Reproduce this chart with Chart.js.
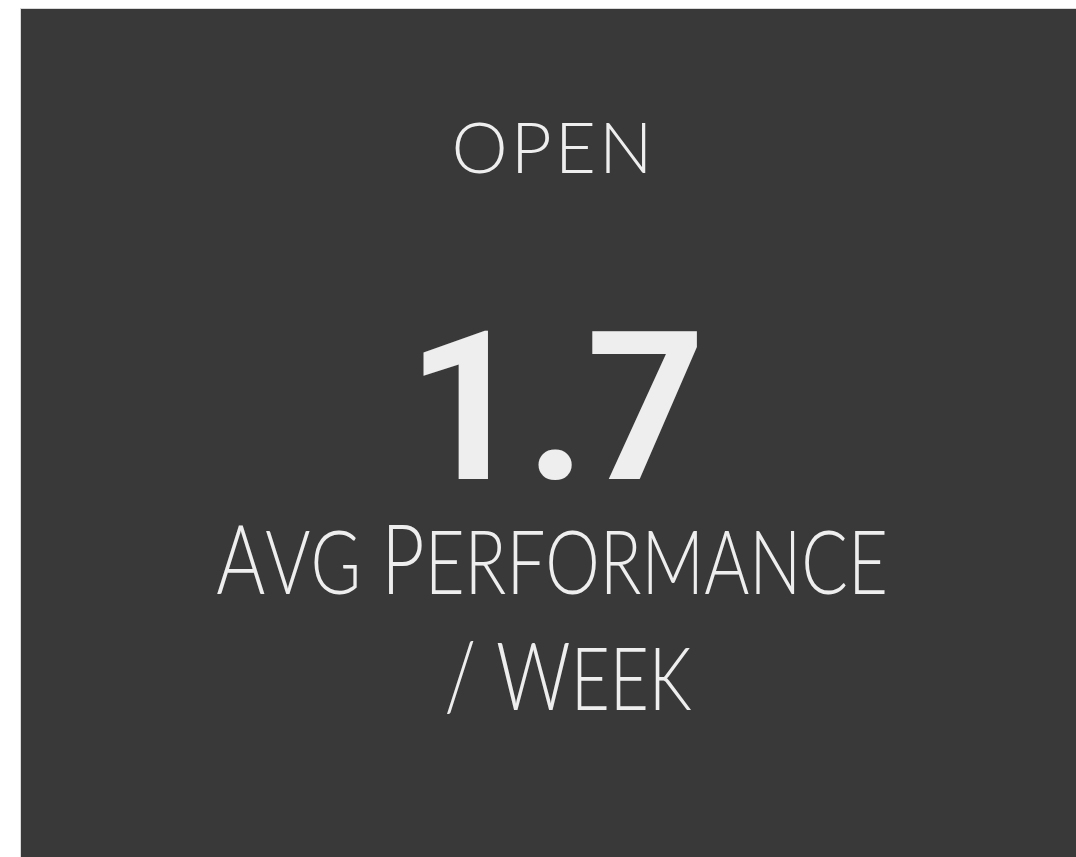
<!DOCTYPE html>
<html>
<head>
<meta charset="utf-8">
<script src="https://cdn.jsdelivr.net/npm/chart.js@4.4.1/dist/chart.umd.min.js"></script>
<style>
  html, body { margin: 0; padding: 0; background: #fff; overflow: hidden; }
  #card {
    position: absolute; left: 20px; top: 8px;
    width: 1062px; height: 860px;
    background: #393939;
    border-top: 1px solid #d9d9d9; border-left: 1px solid #d9d9d9;
  }
  #kpi { display: block; }
</style>
</head>
<body>
<div id="card"><canvas id="kpi" width="1062" height="860"></canvas></div>
<script>
// KPI data
const headings = ['Open'];
const categories = ['Avg Performance / Week'];
const values = [1.7];
const labelLines = ['Avg Performance', '/ Week'];

const textColor = '#eeeeee';
const thinFont = 'Lato';

// draw text in small caps: capitals full size, lower case as smaller capitals
function drawSmallCaps(ctx, text, cx, baseline, size, ratio, spacing, hScale) {
    const parts = [...text].map(ch => {
        const small = ch !== ch.toUpperCase();
        const fs = small ? size * ratio : size;
        ctx.font = `300 ${fs}px ${thinFont}`;
        const glyph = ch.toUpperCase();
        return { glyph, fs, w: ctx.measureText(glyph).width };
    });
    const total = parts.reduce((a, p) => a + p.w + spacing, 0) - spacing;
    ctx.save();
    ctx.translate(cx, baseline);
    ctx.scale(hScale, 1);
    let x = -total / 2;
    ctx.textAlign = 'left';
    ctx.textBaseline = 'alphabetic';
    parts.forEach(p => {
        ctx.font = `300 ${p.fs}px ${thinFont}`;
        ctx.fillText(p.glyph, x, 0);
        x += p.w + spacing;
    });
    ctx.restore();
}

const kpiPlugin = {
    id: 'kpiText',
    afterDraw(chart) {
        const ctx = chart.ctx;
        const cx = chart.width / 2;
        const value = chart.data.datasets[0].data[0];
        ctx.save();
        ctx.fillStyle = textColor;

        drawSmallCaps(ctx, headings[0].toUpperCase(), cx, 164, 71, 0.92, 3, 1);

        ctx.font = '700 208px Roboto';
        ctx.textAlign = 'center';
        ctx.textBaseline = 'alphabetic';
        ctx.fillText(value.toFixed(1), cx + 4, 470);

        drawSmallCaps(ctx, labelLines[0], cx, 585, 96, 0.92, 0, 0.78);
        drawSmallCaps(ctx, labelLines[1], cx + 16, 701, 94, 0.92, 0, 0.78);
        ctx.restore();
    }
};

new Chart(document.getElementById('kpi'), {
    type: 'bar',
    data: {
        labels: categories,
        datasets: [{
            data: values,
            backgroundColor: 'rgba(0,0,0,0)',
            borderWidth: 0
        }]
    },
    options: {
        responsive: false,
        animation: false,
        events: [],
        plugins: {
            legend: { display: false },
            tooltip: { enabled: false }
        },
        scales: {
            x: { display: false },
            y: { display: false, min: 0, max: 2 }
        }
    },
    plugins: [kpiPlugin]
});
</script>
</body>
</html>
